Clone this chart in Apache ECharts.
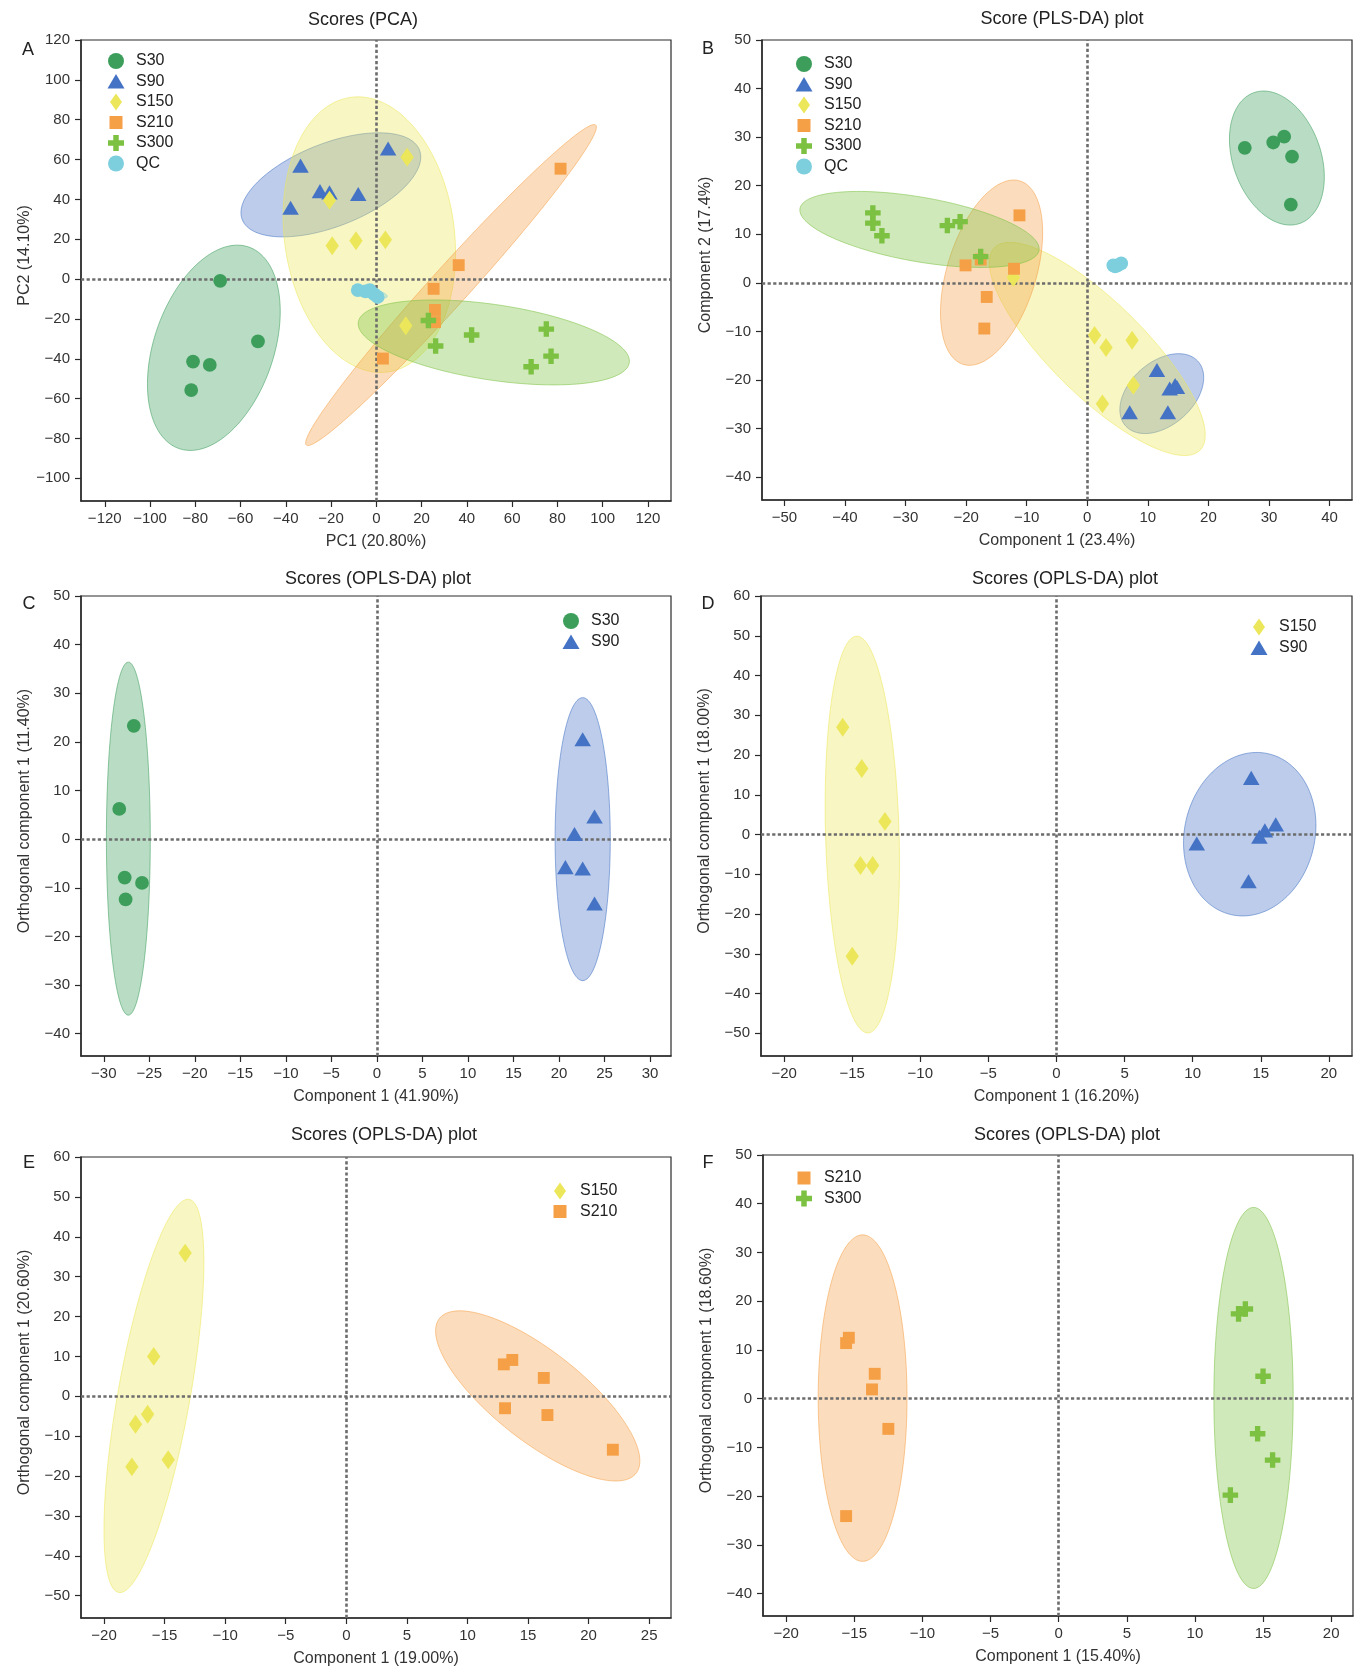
<!DOCTYPE html>
<html><head><meta charset="utf-8">
<script src="https://cdn.jsdelivr.net/npm/echarts@6/dist/echarts.min.js"></script>
<style>html,body{margin:0;padding:0;background:#fff}#c{width:1362px;height:1669px}</style>
</head><body><div id="c"></div>
<script>
// ---------- DATA ----------
const groups = ['S30','S90','S150','S210','S300','QC'];

// Panel A: Scores (PCA)
const A_S30  = [[-69.0,-0.9],[-52.3,-31.3],[-81.0,-41.4],[-73.6,-43.1],[-81.8,-55.7]];
const A_S90  = [[-33.5,56.8],[-24.9,44.0],[-20.7,43.4],[-8.0,42.6],[-37.9,35.7],[5.2,65.4]];
const A_S150 = [[13.6,61.2],[-20.7,39.6],[-19.5,16.7],[-9.0,19.2],[4.0,19.7],[13.0,-23.4]];
const A_S210 = [[81.4,55.4],[36.4,7.0],[25.3,-4.9],[25.9,-15.5],[25.9,-21.6],[2.9,-39.9]];
const A_S300 = [[23.0,-20.8],[42.1,-28.1],[26.2,-33.6],[75.1,-25.1],[77.2,-38.7],[68.4,-44.0]];
const A_QC   = [[-8.2,-5.5],[-2.9,-5.5],[-4.8,-6.2],[-1.0,-7.6],[0.6,-9.0]];
// ellipse: group, centerX, centerY, semi-axis1 (dx,dy), semi-axis2 (dx,dy)
const A_ellipses = [
  ['S30', -71.8,-34.5, 13.4,51.2, 26.1,-5.8],
  ['S90', -20.1,47.3, 38.3,19.3, 10.5,-17.6],
  ['S150', -3.1,22.3, -6.7,69.1, 37.5,3.1],
  ['S210', 33.0,-3.0, 63.8,80.4, 7.5,-4.9],
  ['S300', 51.9,-31.8, 59.8,-10.6, -3.8,-18.5],
  ['QC', -2.9,-7.0, 7.7,-1.8, -0.6,-2.1]
];
const A_xTicks = [-120,-100,-80,-60,-40,-20,0,20,40,60,80,100,120];
const A_yTicks = [-100,-80,-60,-40,-20,0,20,40,60,80,100,120];

// Panel B: Score (PLS-DA) plot
const B_S30  = [[26.0,27.8],[30.7,28.9],[32.5,30.1],[33.8,26.0],[33.6,16.1]];
const B_S90  = [[11.5,-18.0],[13.6,-21.8],[14.5,-21.1],[14.8,-21.5],[7.0,-26.7],[13.3,-26.7]];
const B_S150 = [[1.2,-10.8],[3.1,-13.3],[7.4,-11.8],[7.6,-21.1],[2.5,-24.9],[-12.2,1.1]];
const B_S210 = [[-11.2,13.9],[-20.1,3.6],[-12.1,2.9],[-17.6,4.8],[-16.6,-2.9],[-17.0,-9.4]];
const B_S300 = [[-35.4,14.4],[-35.4,12.3],[-33.9,9.7],[-23.1,11.8],[-21.0,12.6],[-17.6,5.4]];
const B_QC   = [[4.3,3.6],[5.0,3.6],[5.6,4.0],[4.6,3.4]];
const B_ellipses = [
  ['S30', 31.3,25.7, 3.08,-13.7, 7.2,1.64],
  ['S90', 12.3,-22.8, 5.02,7.57, 4.76,-3.2],
  ['S150', 1.65,-13.6, 16.5,-21.3, 6.74,5.26],
  ['S210', -15.8,2.1, 4.3,19.0, 7.25,-1.66],
  ['S300', -27.7,11.0, 19.7,-4.47, -1.43,-6.42],
  ['QC', 5.0,3.7, 1.4,0.1, 0,0.7]
];
const B_xTicks = [-50,-40,-30,-20,-10,0,10,20,30,40];
const B_yTicks = [-40,-30,-20,-10,0,10,20,30,40,50];

// Panel C: S30 vs S90 OPLS-DA
const C_S30 = [[-26.7,23.3],[-28.3,6.2],[-27.7,-7.9],[-25.8,-9.0],[-27.6,-12.4]];
const C_S90 = [[22.6,20.5],[23.9,4.6],[21.7,1.0],[20.7,-5.8],[22.6,-6.1],[23.9,-13.3]];
const C_ellipses = [
  ['S30', -27.3,0.1, 0,36.3, 2.41,0],
  ['S90', 22.6,0.0, 0,29.1, 3.03,0]
];
const C_xTicks = [-30,-25,-20,-15,-10,-5,0,5,10,15,20,25,30];
const C_yTicks = [-40,-30,-20,-10,0,10,20,30,40,50];

// Panel D: S150 vs S90 OPLS-DA
const D_S150 = [[-15.7,27.0],[-14.3,16.6],[-12.6,3.3],[-14.4,-7.8],[-13.5,-7.8],[-15.0,-30.6]];
const D_S90  = [[14.3,14.2],[10.3,-2.3],[15.3,1.0],[14.9,-0.6],[16.1,2.5],[14.1,-11.8]];
const D_ellipses = [
  ['S150', -14.26,0, -0.4,49.9, 2.7,0],
  ['S90', 14.19,0.09, 0.89,20.5, 4.78,-1.59]
];
const D_xTicks = [-20,-15,-10,-5,0,5,10,15,20];
const D_yTicks = [-50,-40,-30,-20,-10,0,10,20,30,40,50,60];

// Panel E: S150 vs S210 OPLS-DA
const E_S150 = [[-13.3,35.9],[-15.9,10.0],[-16.4,-4.5],[-17.4,-7.0],[-17.7,-17.7],[-14.7,-15.9]];
const E_S210 = [[13.0,8.0],[13.7,9.1],[16.3,4.6],[13.1,-3.0],[16.6,-4.7],[22.0,-13.4]];
const E_ellipses = [
  ['S150', -15.88,0.09, 2.87,49.3, 2.96,-1.07],
  ['S210', 15.8,0.09, 7.89,-20.1, 2.97,7.16]
];
const E_xTicks = [-20,-15,-10,-5,0,5,10,15,20,25];
const E_yTicks = [-50,-40,-30,-20,-10,0,10,20,30,40,50,60];

// Panel F: S210 vs S300 OPLS-DA
const F_S210 = [[-15.4,12.5],[-15.6,11.4],[-13.5,5.1],[-13.7,1.9],[-12.5,-6.2],[-15.6,-24.1]];
const F_S300 = [[13.2,17.4],[13.7,18.4],[15.0,4.6],[14.6,-7.2],[15.7,-12.6],[12.6,-19.8]];
const F_ellipses = [
  ['S210', -14.39,0.11, 0,33.5, 3.26,0],
  ['S300', 14.3,0.15, 0,39.1, 2.91,0]
];
const F_xTicks = [-20,-15,-10,-5,0,5,10,15,20];
const F_yTicks = [-40,-30,-20,-10,0,10,20,30,40,50];

// ---------- STYLE ----------
const FONT = 'Liberation Sans, Arial, Helvetica, sans-serif';
const COLORS = {S30:'#3d9e5c', S90:'#4472c4', S150:'#ece75a', S210:'#f5a047', S300:'#7cc142', QC:'#7dcfde'};
const SYM = {
  circle:   'path://M0,0M18,18M1,9A8,8 0 1,1 17,9A8,8 0 1,1 1,9Z',
  triangle: 'path://M0,0M18,18M0.5,16L9,1.5L17.5,16Z',
  diamond:  'path://M0,0M18,18M9,0.5L15,9L9,17.5L3,9Z',
  square:   'path://M0,0M18,18M2.5,2.5H15.5V15.5H2.5Z',
  plus:     'path://M0,0M18,18M6.25,1H11.75V6.25H17V11.75H11.75V17H6.25V11.75H1V6.25H6.25Z'
};
const GSTYLE = {
  S30:{symbol:SYM.circle, size:15.5}, S90:{symbol:SYM.triangle, size:17.5}, S150:{symbol:SYM.diamond, size:20},
  S210:{symbol:SYM.square, size:16.5}, S300:{symbol:SYM.plus, size:17.5}, QC:{symbol:SYM.circle, size:15.5}
};

const panels = [
  {letter:'A', title:'Scores (PCA)', titleX:358, titleY:6, letterX:23, letterY:36,
   grid:{left:81,top:40,width:590,height:461}, xr:[-130.5,130.2], yr:[-111.4,120],
   xTicks:A_xTicks, yTicks:A_yTicks, xName:'PC1 (20.80%)', yName:'PC2 (14.10%)',
   series:[['S30',A_S30],['S90',A_S90],['S150',A_S150],['S210',A_S210],['S300',A_S300],['QC',A_QC]],
   ellipses:A_ellipses, legend:{left:102,top:47,names:['S30','S90','S150','S210','S300','QC'],gap:2.5}},
  {letter:'B', title:'Score (PLS-DA) plot', titleX:1057, titleY:5, letterX:703, letterY:35,
   grid:{left:762,top:40,width:590,height:460}, xr:[-53.7,43.7], yr:[-44.7,50],
   xTicks:B_xTicks, yTicks:B_yTicks, xName:'Component 1 (23.4%)', yName:'Component 2 (17.4%)',
   series:[['S30',B_S30],['S90',B_S90],['S150',B_S150],['S210',B_S210],['S300',B_S300],['QC',B_QC]],
   ellipses:B_ellipses, legend:{left:790,top:50,names:['S30','S90','S150','S210','S300','QC'],gap:2.5}},
  {letter:'C', title:'Scores (OPLS-DA) plot', titleX:373, titleY:565, letterX:24, letterY:590,
   grid:{left:81,top:596,width:590,height:460}, xr:[-32.5,32.3], yr:[-44.6,50],
   xTicks:C_xTicks, yTicks:C_yTicks, xName:'Component 1 (41.90%)', yName:'Orthogonal component 1 (11.40%)',
   series:[['S30',C_S30],['S90',C_S90]],
   ellipses:C_ellipses, legend:{left:557,top:607,names:['S30','S90'],gap:3}},
  {letter:'D', title:'Scores (OPLS-DA) plot', titleX:1060, titleY:565, letterX:703, letterY:590,
   grid:{left:761,top:596,width:591,height:460}, xr:[-21.7,21.7], yr:[-55.7,60],
   xTicks:D_xTicks, yTicks:D_yTicks, xName:'Component 1 (16.20%)', yName:'Orthogonal component 1 (18.00%)',
   series:[['S150',D_S150],['S90',D_S90]],
   ellipses:D_ellipses, legend:{left:1245,top:613,names:['S150','S90'],gap:3}},
  {letter:'E', title:'Scores (OPLS-DA) plot', titleX:379, titleY:1121, letterX:24, letterY:1149,
   grid:{left:81,top:1157,width:590,height:461}, xr:[-21.9,26.8], yr:[-55.6,60],
   xTicks:E_xTicks, yTicks:E_yTicks, xName:'Component 1 (19.00%)', yName:'Orthogonal component 1 (20.60%)',
   series:[['S150',E_S150],['S210',E_S210]],
   ellipses:E_ellipses, legend:{left:546,top:1177,names:['S150','S210'],gap:2.5}},
  {letter:'F', title:'Scores (OPLS-DA) plot', titleX:1062, titleY:1121, letterX:703, letterY:1149,
   grid:{left:763,top:1155,width:590,height:461}, xr:[-21.7,21.6], yr:[-44.6,50],
   xTicks:F_xTicks, yTicks:F_yTicks, xName:'Component 1 (15.40%)', yName:'Orthogonal component 1 (18.60%)',
   series:[['S210',F_S210],['S300',F_S300]],
   ellipses:F_ellipses, legend:{left:790,top:1164,names:['S210','S300'],gap:2.5}}
];

function rgba(hex, a){
  const n = parseInt(hex.slice(1),16);
  return 'rgba('+((n>>16)&255)+','+((n>>8)&255)+','+(n&255)+','+a+')';
}
const fmt = v => (v < 0 ? '\u2212' + Math.abs(v) : String(v));

function renderEllipse(params, api){
  const cx=api.value(0), cy=api.value(1), ax=api.value(2), ay=api.value(3), bx=api.value(4), by=api.value(5);
  const g = groups[api.value(6)];
  const pts=[];
  const N=120;
  for(let k=0;k<N;k++){
    const t=k/N*2*Math.PI;
    pts.push(api.coord([cx+ax*Math.cos(t)+bx*Math.sin(t), cy+ay*Math.cos(t)+by*Math.sin(t)]));
  }
  return {type:'polygon', shape:{points:pts},
    style:{fill:rgba(COLORS[g],0.36), stroke:rgba(COLORS[g],0.55), lineWidth:1}};
}

const option = {animation:false, backgroundColor:'#fff', textStyle:{fontFamily:FONT},
  title:[], grid:[], xAxis:[], yAxis:[], legend:[], series:[]};

panels.forEach((p,i)=>{
  option.title.push({text:p.title, left:p.titleX, top:p.titleY, textAlign:'center',
    textStyle:{fontSize:18, fontWeight:'normal', color:'#222', fontFamily:FONT}});
  option.title.push({text:p.letter, left:p.letterX, top:p.letterY, textAlign:'center',
    textStyle:{fontSize:18, fontWeight:'normal', color:'#222', fontFamily:FONT}});
  option.grid.push(Object.assign({show:true, borderColor:'#2a2a2a', borderWidth:1.2, backgroundColor:'transparent', containLabel:false}, p.grid));
  const axLine = {onZero:false, lineStyle:{color:'#2a2a2a', width:1.5}};
  option.xAxis.push({gridIndex:i, type:'value', min:p.xr[0], max:p.xr[1],
    splitLine:{show:false}, axisLine:axLine,
    axisTick:{customValues:p.xTicks, length:6, lineStyle:{color:'#2a2a2a', width:1.2}},
    axisLabel:{customValues:p.xTicks, formatter:fmt, fontSize:15, color:'#333', margin:10, fontFamily:FONT},
    name:p.xName, nameLocation:'middle', nameGap:33,
    nameTextStyle:{fontSize:16, color:'#333', fontFamily:FONT}});
  option.yAxis.push({gridIndex:i, type:'value', min:p.yr[0], max:p.yr[1],
    splitLine:{show:false}, axisLine:axLine,
    axisTick:{customValues:p.yTicks, length:6, lineStyle:{color:'#2a2a2a', width:1.2}},
    axisLabel:{customValues:p.yTicks, formatter:fmt, fontSize:15, color:'#333', margin:11, fontFamily:FONT},
    name:p.yName, nameLocation:'middle', nameGap:48,
    nameTextStyle:{fontSize:16, color:'#333', fontFamily:FONT, padding:[0,0,0,30]}});
  option.legend.push({orient:'vertical', left:p.legend.left, top:p.legend.top,
    itemWidth:30, itemHeight:18, itemGap:p.legend.gap, selectedMode:false,
    data:p.legend.names, textStyle:{fontSize:16, color:'#222', fontFamily:FONT}});
  option.series.push({type:'custom', name:'ellipse '+p.letter, xAxisIndex:i, yAxisIndex:i, z:1, silent:true,
    clip:true, renderItem:renderEllipse, encode:{x:0,y:1},
    data:p.ellipses.map(e=>[e[1],e[2],e[3],e[4],e[5],e[6],groups.indexOf(e[0])])});
  p.series.forEach(([g,d],j)=>{
    const s = {type:'scatter', name:g, xAxisIndex:i, yAxisIndex:i, z:3,
      symbol:GSTYLE[g].symbol, symbolSize:GSTYLE[g].size,
      itemStyle:{color:COLORS[g], opacity:1}, data:d};
    if(j===0){
      s.markLine = {silent:true, symbol:['none','none'], z:2, label:{show:false},
        lineStyle:{color:'#6c6c6c', width:2.6, type:[3.2,2.4], opacity:1}, emphasis:{disabled:true},
        data:[{xAxis:0},{yAxis:0}]};
    }
    option.series.push(s);
  });
});

const chart = echarts.init(document.getElementById('c'), null, {renderer:'canvas'});
chart.setOption(option);
</script></body></html>
